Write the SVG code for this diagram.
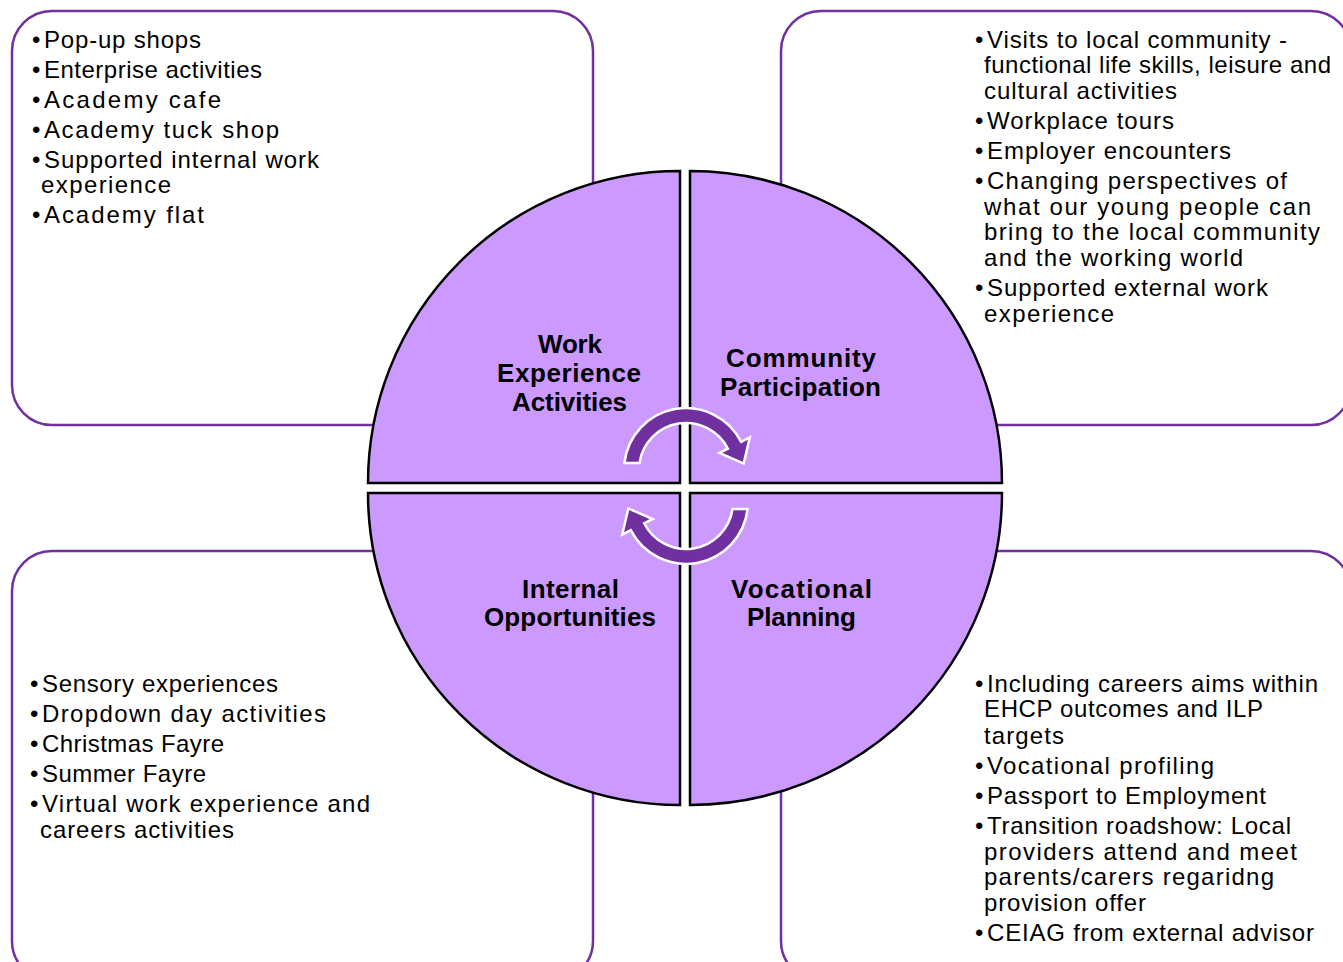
<svg xmlns="http://www.w3.org/2000/svg" width="1343" height="962" viewBox="0 0 1343 962">
<style>
.box{fill:#fff;stroke:#7030a0;stroke-width:2.5}
.q{fill:#cc99ff;stroke:#000;stroke-width:2.5;stroke-linejoin:miter}
.t{font-family:"Liberation Sans",Arial,sans-serif;font-size:24px;fill:#000}
.h{font-family:"Liberation Sans",Arial,sans-serif;font-size:26px;font-weight:bold;fill:#000}
.arr{fill:#7030a0;stroke:#fff;stroke-width:2.5;stroke-linejoin:miter}
</style>
<defs>
<path id="arrow" d="M 624.4 463 A 62 62 0 0 1 741.2 441.9 L 749.8 437.3 L 743.7 463.6 L 719.4 453 L 727.9 448.7 A 47 47 0 0 0 639.5 463 Z"/>
</defs>
<rect x="0" y="0" width="1343" height="962" fill="#fff"/>
<g id="box-tl"><rect class="box" x="12" y="11" width="581" height="414" rx="40"/>
<text class="t" x="32" y="48">•</text><text class="t" x="44" y="48" textLength="157">Pop-up shops</text>
<text class="t" x="32" y="78">•</text><text class="t" x="44" y="78" textLength="218">Enterprise activities</text>
<text class="t" x="32" y="108">•</text><text class="t" x="44" y="108" textLength="177">Academy cafe</text>
<text class="t" x="32" y="138">•</text><text class="t" x="44" y="138" textLength="235">Academy tuck shop</text>
<text class="t" x="32" y="168">•</text><text class="t" x="44" y="168" textLength="275">Supported internal work</text>
<text class="t" x="41" y="193" textLength="130">experience</text>
<text class="t" x="32" y="223">•</text><text class="t" x="44" y="223" textLength="160">Academy flat</text>
</g>
<g id="box-tr"><rect class="box" x="781" y="11" width="570" height="414" rx="40"/>
<text class="t" x="975" y="48">•</text><text class="t" x="987" y="48" textLength="300">Visits to local community -</text>
<text class="t" x="984" y="73" textLength="347">functional life skills, leisure and</text>
<text class="t" x="984" y="99" textLength="193">cultural activities</text>
<text class="t" x="975" y="129">•</text><text class="t" x="987" y="129" textLength="187">Workplace tours</text>
<text class="t" x="975" y="159">•</text><text class="t" x="987" y="159" textLength="244">Employer encounters</text>
<text class="t" x="975" y="189">•</text><text class="t" x="987" y="189" textLength="300">Changing perspectives of</text>
<text class="t" x="984" y="215" textLength="327">what our young people can</text>
<text class="t" x="984" y="240" textLength="336">bring to the local community</text>
<text class="t" x="984" y="266" textLength="259">and the working world</text>
<text class="t" x="975" y="296">•</text><text class="t" x="987" y="296" textLength="281">Supported external work</text>
<text class="t" x="984" y="322" textLength="130">experience</text>
</g>
<g id="box-bl"><rect class="box" x="12" y="551" width="581" height="430" rx="40"/>
<text class="t" x="30" y="692">•</text><text class="t" x="42" y="692" textLength="236">Sensory experiences</text>
<text class="t" x="30" y="722">•</text><text class="t" x="42" y="722" textLength="284">Dropdown day activities</text>
<text class="t" x="30" y="752">•</text><text class="t" x="42" y="752" textLength="182">Christmas Fayre</text>
<text class="t" x="30" y="782">•</text><text class="t" x="42" y="782" textLength="164">Summer Fayre</text>
<text class="t" x="30" y="812">•</text><text class="t" x="42" y="812" textLength="328">Virtual work experience and</text>
<text class="t" x="40" y="838" textLength="194">careers activities</text>
</g>
<g id="box-br"><rect class="box" x="781" y="551" width="570" height="430" rx="40"/>
<text class="t" x="975" y="692">•</text><text class="t" x="987" y="692" textLength="331">Including careers aims within</text>
<text class="t" x="984" y="717" textLength="279">EHCP outcomes and ILP</text>
<text class="t" x="984" y="744" textLength="80">targets</text>
<text class="t" x="975" y="774">•</text><text class="t" x="987" y="774" textLength="227">Vocational profiling</text>
<text class="t" x="975" y="804">•</text><text class="t" x="987" y="804" textLength="279">Passport to Employment</text>
<text class="t" x="975" y="834">•</text><text class="t" x="987" y="834" textLength="304">Transition roadshow: Local</text>
<text class="t" x="984" y="860" textLength="313">providers attend and meet</text>
<text class="t" x="984" y="885" textLength="290">parents/carers regaridng</text>
<text class="t" x="984" y="911" textLength="162">provision offer</text>
<text class="t" x="975" y="941">•</text><text class="t" x="987" y="941" textLength="327">CEIAG from external advisor</text>
</g>
<g id="q-work"><path class="q" d="M 680 483 L 368 483 A 312 312 0 0 1 680 171 Z"/>
<text class="h" x="538" y="353" textLength="64">Work</text>
<text class="h" x="497" y="382" textLength="144">Experience</text>
<text class="h" x="512" y="411" textLength="115">Activities</text>
</g>
<g id="q-community"><path class="q" d="M 690 483 L 690 171 A 312 312 0 0 1 1002 483 Z"/>
<text class="h" x="726" y="367" textLength="150">Community</text>
<text class="h" x="720" y="396" textLength="161">Participation</text>
</g>
<g id="q-vocational"><path class="q" d="M 690 493 L 1002 493 A 312 312 0 0 1 690 805 Z"/>
<text class="h" x="731" y="598" textLength="141">Vocational</text>
<text class="h" x="747" y="626" textLength="109">Planning</text>
</g>
<g id="q-internal"><path class="q" d="M 680 493 L 680 805 A 312 312 0 0 1 368 493 Z"/>
<text class="h" x="522" y="598" textLength="97">Internal</text>
<text class="h" x="484" y="626" textLength="172">Opportunities</text>
</g>
<g id="connectors">
<use href="#arrow" class="arr"/>
<use href="#arrow" class="arr" transform="rotate(180 686 486)"/>
</g>
</svg>
